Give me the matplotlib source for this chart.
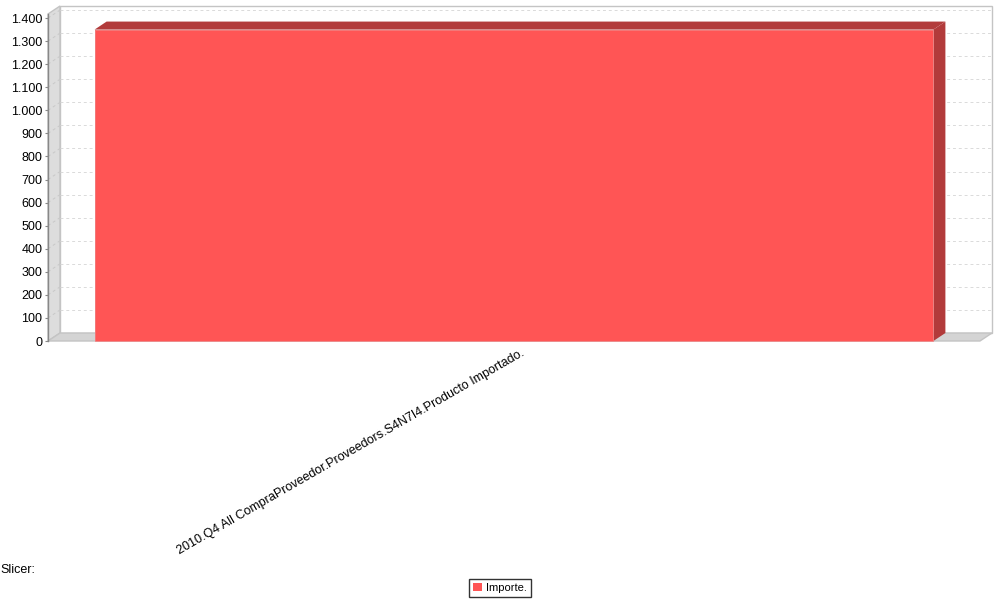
import numpy as np
import matplotlib
matplotlib.use('Agg')
import matplotlib.pyplot as plt
from matplotlib.patches import Polygon, Rectangle
from matplotlib.transforms import ScaledTranslation

# Data
categories = ['2010.Q4 All CompraProveedor.Proveedors.S4N7I4.Producto Importado.']
importe = [1350]
series_name = 'Importe.'
y_ticks = [0, 100, 200, 300, 400, 500, 600, 700, 800, 900, 1000, 1100, 1200, 1300, 1400]
y_tick_labels = ['0', '100', '200', '300', '400', '500', '600', '700', '800', '900',
                 '1.000', '1.100', '1.200', '1.300', '1.400']

plt.rcParams['font.family'] = ['Liberation Sans', 'DejaVu Sans']

FACE = '#FF5555'
DARK = '#B23B3B'
DX, DY = 12, 8  # 3D depth offset in pixels

fig = plt.figure(figsize=(10, 6), dpi=100)
ax = fig.add_axes([48 / 1000, (600 - 341) / 600, 932 / 1000, 327 / 600])
ax.set_xlim(-0.5, 0.5)
ax.set_ylim(0, max(importe) * 1.05)
for s in ax.spines.values():
    s.set_visible(False)
ax.patch.set_visible(False)

# axes-fraction depth offset
dxa, dya = DX / 932, DY / 327
ta = ax.transAxes

# back wall
ax.add_patch(Rectangle((dxa, dya), 1, 1, transform=ta, facecolor='white',
                       edgecolor='#C4C4C4', lw=1, clip_on=False, zorder=0))
# left wall
ax.add_patch(Polygon([(0, 0), (dxa, dya), (dxa, 1 + dya), (0, 1)], closed=True,
                     transform=ta, facecolor='#DDDDDD', edgecolor='#C4C4C4', lw=1,
                     clip_on=False, zorder=0.5))
# floor
ax.add_patch(Polygon([(0, 0), (1, 0), (1 + dxa, dya), (dxa, dya)], closed=True,
                     transform=ta, facecolor='#D4D4D4', edgecolor='#C4C4C4', lw=1,
                     clip_on=False, zorder=0.5))

# gridlines on wall
back = ax.transData + ScaledTranslation(DX / 100, DY / 100, fig.dpi_scale_trans)
for t in y_ticks[1:]:
    ax.plot([-0.5, 0.5], [t, t], transform=back, color='#DADADA', lw=0.7,
            ls=(0, (3, 3)), clip_on=False, zorder=1)
    x0, y0 = ax.transData.transform((-0.5, t))
    ax.plot([x0, x0 + DX], [y0, y0 + DY], transform=None, color='#C8C8C8', lw=0.7,
            ls=(0, (3, 3)), clip_on=False, zorder=1)

# bars
bars = ax.bar(range(len(categories)), importe, width=0.9, color=FACE,
              edgecolor='none', zorder=3)
for b in bars:
    x0, y0 = ax.transData.transform((b.get_x(), 0))
    x1, y1 = ax.transData.transform((b.get_x() + b.get_width(), b.get_height()))
    top = [(x0, y1), (x1, y1), (x1 + DX, y1 + DY), (x0 + DX, y1 + DY)]
    side = [(x1, y0), (x1 + DX, y0 + DY), (x1 + DX, y1 + DY), (x1, y1)]
    for pts in (top, side):
        fig.add_artist(Polygon(pts, closed=True, transform=None, facecolor=DARK,
                               edgecolor='none', zorder=4))
    fig.add_artist(Rectangle((x0, y0), x1 - x0, y1 - y0, transform=None,
                             facecolor='none', edgecolor='#F08080', lw=0.6, zorder=5))

# axes lines
ax.plot([0, 0], [0, 1], transform=ta, color='#888888', lw=1, clip_on=False, zorder=6)

ax.set_yticks(y_ticks, y_tick_labels, fontsize=9)
ax.tick_params(axis='y', length=2, color='#888888', pad=2)
ax.set_xticks(range(len(categories)), categories, fontsize=9, rotation=30,
              ha='right', va='center', rotation_mode='anchor')
ax.tick_params(axis='x', length=0, pad=8)
for lbl in ax.get_xticklabels():
    lbl.set_transform(lbl.get_transform() + ScaledTranslation(9 / 100, 0, fig.dpi_scale_trans))

fig.text(0 / 1000, 1 - 570 / 600, 'Slicer:', fontsize=9, ha='left', va='center')

# legend
leg = fig.legend([Rectangle((0, 0), 1, 1, facecolor=FACE, edgecolor='none')],
                 [series_name], loc='center', bbox_to_anchor=(0.5, 1 - 588 / 600),
                 fontsize=8, frameon=True, fancybox=False, handlelength=0.8,
                 handleheight=0.8, handletextpad=0.4, borderpad=0.35, borderaxespad=0)
leg.get_frame().set_edgecolor('black')
leg.get_frame().set_linewidth(1)

fig.savefig('out.png', dpi=100)
